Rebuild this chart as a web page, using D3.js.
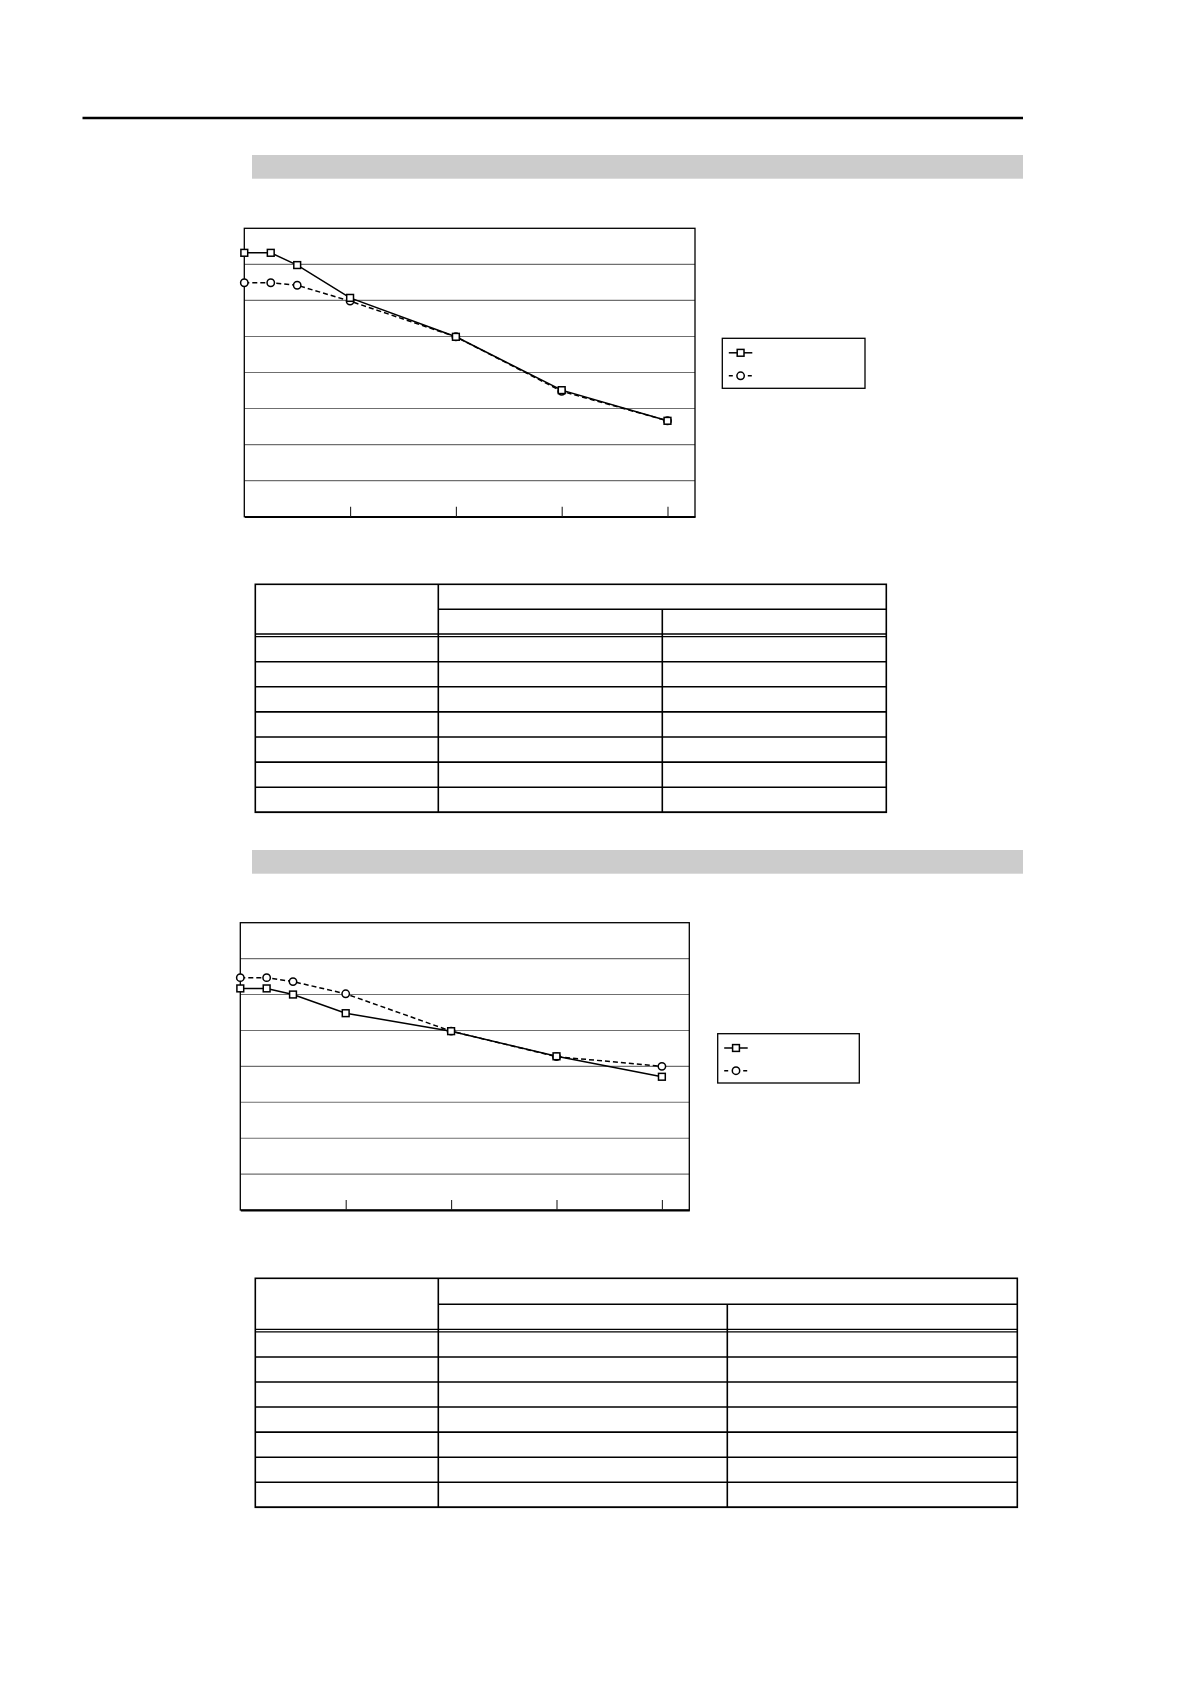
<!DOCTYPE html>
<html>
<head>
<meta charset="utf-8">
<script src="https://cdn.jsdelivr.net/npm/d3@7"></script>
<style>
  html, body { margin: 0; padding: 0; background: #ffffff; }
  svg { display: block; }
</style>
</head>
<body>
<script>
// ---- data ----
const xValues = [0, 0.25, 0.5, 1, 2, 3, 4];
const xTicks = [1, 2, 3, 4];
const yGrid = [1, 2, 3, 4, 5, 6, 7];

const chart1SeriesA = [7.32, 7.32, 6.98, 6.07, 4.99, 3.51, 2.66]; // solid, squares
const chart1SeriesB = [6.49, 6.49, 6.42, 5.98, 4.99, 3.48, 2.66]; // dashed, circles
const chart2SeriesA = [6.17, 6.17, 6.00, 5.48, 4.98, 4.28, 3.71];
const chart2SeriesB = [6.47, 6.47, 6.36, 6.02, 4.98, 4.27, 4.00];

const tableBodyRows = 7;

// ---- page ----
const W = 1191, H = 1684;
const svg = d3.select("body").append("svg").attr("width", W).attr("height", H);
svg.append("rect").attr("width", W).attr("height", H).attr("fill", "#fff");

// top rule
svg.append("line").attr("x1", 82.5).attr("x2", 1023).attr("y1", 118).attr("y2", 118)
  .attr("stroke", "#000").attr("stroke-width", 2.3);

// section bars
[[155, 178.7], [850, 873.7]].forEach(([y0, y1]) => {
  svg.append("rect").attr("x", 252).attr("y", y0).attr("width", 1023 - 252).attr("height", y1 - y0)
    .attr("fill", "#cccccc");
});

const LW = 1.5;

function drawChart(cfg) {
  const { left, top, right, bottom, seriesA, seriesB, legend } = cfg;
  const g = svg.append("g");
  const x = d3.scaleLinear().domain([0, 4.26]).range([left, right]);
  const y = d3.scaleLinear().domain([0, 8]).range([bottom, top]);

  // gridlines
  g.append("g").selectAll("line").data(yGrid).join("line")
    .attr("x1", left).attr("x2", right)
    .attr("y1", d => y(d)).attr("y2", d => y(d))
    .attr("stroke", "#6f6f6f").attr("stroke-width", 1.1);

  // frame
  g.append("rect").attr("x", left).attr("y", top).attr("width", right - left).attr("height", bottom - top)
    .attr("fill", "none").attr("stroke", "#000").attr("stroke-width", 1.3);

  // x axis ticks (inward, no labels)
  const axis = d3.axisBottom(x).tickValues(xTicks).tickSizeInner(-10).tickSizeOuter(0).tickFormat("");
  const ax = g.append("g").attr("transform", `translate(0,${bottom})`).call(axis);
  ax.select(".domain").attr("stroke", "#000").attr("stroke-width", 1.8);
  ax.selectAll(".tick line").attr("stroke", "#222").attr("stroke-width", 1.1);

  const line = d3.line().x((d, i) => x(xValues[i])).y(d => y(d));

  // dashed circle series
  g.append("path").datum(seriesB).attr("d", line)
    .attr("fill", "none").attr("stroke", "#000").attr("stroke-width", LW)
    .attr("stroke-dasharray", "5,3");
  // solid square series
  g.append("path").datum(seriesA).attr("d", line)
    .attr("fill", "none").attr("stroke", "#000").attr("stroke-width", LW);

  g.append("g").selectAll("circle").data(seriesB).join("circle")
    .attr("cx", (d, i) => x(xValues[i])).attr("cy", d => y(d)).attr("r", 3.7)
    .attr("fill", "#fff").attr("stroke", "#000").attr("stroke-width", LW);
  g.append("g").selectAll("rect").data(seriesA).join("rect")
    .attr("x", (d, i) => x(xValues[i]) - 3.4).attr("y", d => y(d) - 3.4)
    .attr("width", 6.8).attr("height", 6.8)
    .attr("fill", "#fff").attr("stroke", "#000").attr("stroke-width", LW);

  // legend
  const L = legend;
  const lg = svg.append("g");
  lg.append("rect").attr("x", L.x).attr("y", L.y).attr("width", L.w).attr("height", L.h)
    .attr("fill", "#fff").attr("stroke", "#000").attr("stroke-width", 1.3);
  const ly1 = L.y + L.h * 0.29, ly2 = L.y + L.h * 0.75;
  const lx0 = L.x + 6.5, lx1 = L.x + 30, lmx = L.x + 18.3;
  lg.append("line").attr("x1", lx0).attr("x2", lx1).attr("y1", ly1).attr("y2", ly1)
    .attr("stroke", "#000").attr("stroke-width", LW);
  lg.append("rect").attr("x", lmx - 3.4).attr("y", ly1 - 3.4).attr("width", 6.8).attr("height", 6.8)
    .attr("fill", "#fff").attr("stroke", "#000").attr("stroke-width", LW);
  lg.append("line").attr("x1", lx0).attr("x2", lx1 + 1).attr("y1", ly2).attr("y2", ly2)
    .attr("stroke", "#000").attr("stroke-width", LW).attr("stroke-dasharray", "4,15");
  lg.append("circle").attr("cx", lmx).attr("cy", ly2).attr("r", 3.7)
    .attr("fill", "#fff").attr("stroke", "#000").attr("stroke-width", LW);
}

drawChart({
  left: 244.3, top: 228.3, right: 695, bottom: 516.7,
  seriesA: chart1SeriesA, seriesB: chart1SeriesB,
  legend: { x: 722.3, y: 338.3, w: 142.7, h: 50 }
});
drawChart({
  left: 240.3, top: 922.7, right: 689.3, bottom: 1210,
  seriesA: chart2SeriesA, seriesB: chart2SeriesB,
  legend: { x: 717.7, y: 1033.7, w: 141.6, h: 49.3 }
});

function drawTable(cfg) {
  const { x0, x1, x2, x3, top, mid, dbl, bottom } = cfg;
  const g = svg.append("g").attr("stroke", "#000").attr("stroke-width", 1.6).attr("fill", "none");
  const bodyTop = dbl + 2.6;
  const rowY = d3.scaleLinear().domain([0, tableBodyRows]).range([bodyTop, bottom]);
  const rows = d3.range(1, tableBodyRows + 1);
  // outer frame
  g.append("rect").attr("x", x0).attr("y", top).attr("width", x3 - x0).attr("height", bottom - top);
  // header lines
  g.append("line").attr("x1", x1).attr("x2", x3).attr("y1", mid).attr("y2", mid);
  g.append("line").attr("x1", x0).attr("x2", x3).attr("y1", dbl).attr("y2", dbl).attr("stroke-width", 1.3);
  g.append("line").attr("x1", x0).attr("x2", x3).attr("y1", bodyTop).attr("y2", bodyTop).attr("stroke-width", 1.3);
  // body row lines
  g.selectAll("line.row").data(rows).join("line").attr("class", "row")
    .attr("x1", x0).attr("x2", x3).attr("y1", d => rowY(d)).attr("y2", d => rowY(d));
  // vertical lines
  g.append("line").attr("x1", x1).attr("x2", x1).attr("y1", top).attr("y2", bottom);
  g.append("line").attr("x1", x2).attr("x2", x2).attr("y1", mid).attr("y2", bottom);
}

drawTable({ x0: 255.3, x1: 438.3, x2: 662.3, x3: 886.3, top: 584.3, mid: 609.3, dbl: 634, bottom: 812.3 });
drawTable({ x0: 255.3, x1: 438.3, x2: 727.3, x3: 1017.3, top: 1278.3, mid: 1304.3, dbl: 1329.3, bottom: 1507.3 });
</script>
</body>
</html>
